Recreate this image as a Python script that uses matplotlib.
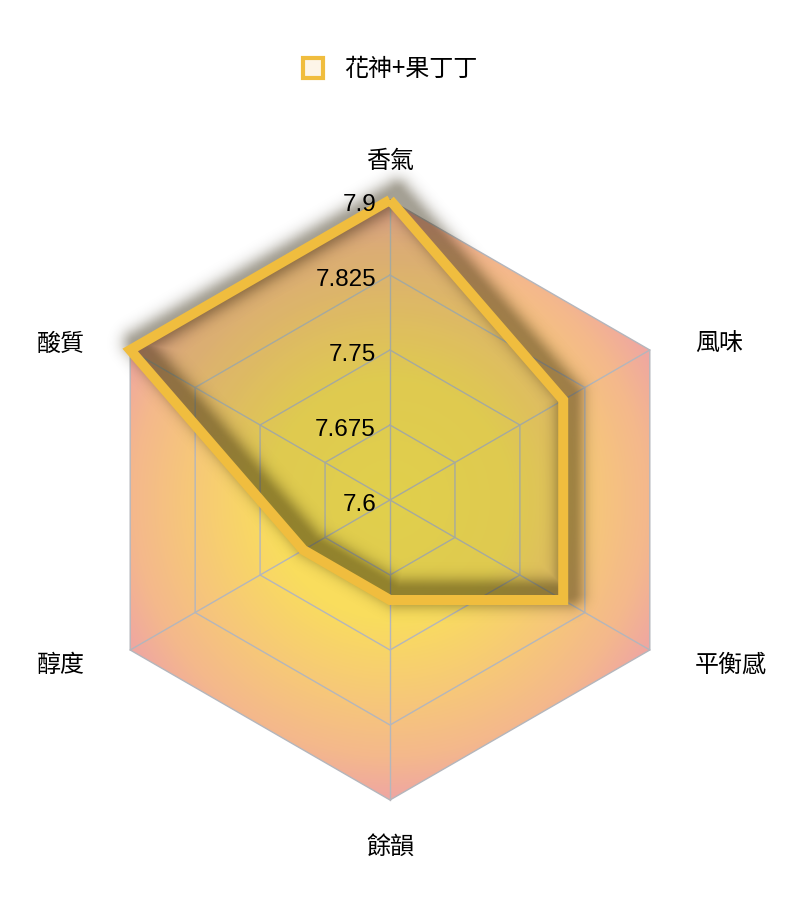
import numpy as np
import matplotlib
matplotlib.use('Agg')
import matplotlib.pyplot as plt
from matplotlib.colors import LinearSegmentedColormap
from matplotlib.patches import Polygon
from matplotlib.lines import Line2D

# ---------------- data ----------------
categories = ['香氣', '風味', '平衡感', '餘韻', '醇度', '酸質']
values = [7.9, 7.8, 7.8, 7.7, 7.7, 7.9]
series_name = '花神+果丁丁'
axis_min, axis_max = 7.6, 7.9
tick_values = [7.6, 7.675, 7.75, 7.825, 7.9]
tick_labels = ['7.6', '7.675', '7.75', '7.825', '7.9']

CJK = ['Noto Sans CJK TC', 'DejaVu Sans']
NUM = ['Liberation Sans', 'DejaVu Sans']
LINE_COLOR = '#f0bd3e'
GRID_COLOR = '#b4b6bc'

PX = 300.0  # pixels per unit radius
fig = plt.figure(figsize=(8.06, 9.0), dpi=100)
ax = fig.add_axes([0, 0, 1, 1])
ax.set_xlim(-390 / PX, 416 / PX)
ax.set_ylim(-400 / PX, 500 / PX)
ax.axis('off')

n = len(categories)
angles = np.pi / 2 - 2 * np.pi * np.arange(n) / n


def radius(v):
    return (np.asarray(v, dtype=float) - axis_min) / (axis_max - axis_min)


vx = np.cos(angles)
vy = np.sin(angles)

# ---------------- gradient background clipped to hexagon ----------------
N = 700
g = np.linspace(-1.02, 1.02, N)
GX, GY = np.meshgrid(g, g)
R = np.sqrt(GX ** 2 + GY ** 2)
cmap = LinearSegmentedColormap.from_list('bg', [
    (0.0, '#fbe35a'), (0.40, '#f9dd5e'), (0.70, '#f6c57c'),
    (0.86, '#f4b88c'), (1.0, '#efa6a2')])
img = ax.imshow(cmap(np.clip(R, 0, 1)), extent=[-1.02, 1.02, -1.02, 1.02],
                origin='lower', zorder=1, interpolation='bilinear')
hexagon = Polygon(np.column_stack([vx, vy]), closed=True, transform=ax.transData)
img.set_clip_path(hexagon)

# ---------------- split lines and axis lines ----------------
for t in tick_values[1:]:
    r = radius(t)
    ax.plot(np.append(vx, vx[0]) * r, np.append(vy, vy[0]) * r,
            color=GRID_COLOR, lw=1.0, zorder=2)
for i in range(n):
    ax.plot([0, vx[i]], [0, vy[i]], color=GRID_COLOR, lw=1.0, zorder=2)

# ---------------- series ----------------
rv = radius(values)
px_ = rv * vx
py_ = rv * vy
ax.add_patch(Polygon(np.column_stack([px_, py_]), closed=True,
                     facecolor=(80 / 255, 100 / 255, 0, 0.15), edgecolor='none', zorder=3))

# shadow of the line (offset right/up, blurred)
off = 7 / PX
M = 900
sx = np.linspace(-1.3, 1.35, M)
sy = np.linspace(-1.3, 1.35, M)
SX, SY = np.meshgrid(sx, sy)
dmin = np.full(SX.shape, np.inf)
ax_pts = np.append(px_, px_[0]) + off
ay_pts = np.append(py_, py_[0]) + off
for i in range(n):
    x1, y1, x2, y2 = ax_pts[i], ay_pts[i], ax_pts[i + 1], ay_pts[i + 1]
    dx, dy = x2 - x1, y2 - y1
    L2 = dx * dx + dy * dy
    t = np.clip(((SX - x1) * dx + (SY - y1) * dy) / L2, 0, 1)
    d = np.hypot(SX - (x1 + t * dx), SY - (y1 + t * dy))
    dmin = np.minimum(dmin, d)
dpx = dmin * PX
alpha = 0.42 * np.exp(-np.maximum(dpx - 3, 0) ** 2 / (2 * 9.0 ** 2))
shadow = np.zeros(SX.shape + (4,))
shadow[..., 0] = 40 / 255
shadow[..., 1] = 30 / 255
shadow[..., 2] = 0
shadow[..., 3] = alpha
ax.imshow(shadow, extent=[sx[0], sx[-1], sy[0], sy[-1]], origin='lower',
          zorder=4, interpolation='bilinear')

ax.plot(np.append(px_, px_[0]), np.append(py_, py_[0]), color=LINE_COLOR,
        lw=7.2, solid_joinstyle='miter', solid_capstyle='butt', zorder=5)

# ---------------- tick labels ----------------
for t, lab in zip(tick_values, tick_labels):
    ax.annotate(lab, xy=(0, radius(t)), xytext=(-14 * 0.72, -5 * 0.72),
                textcoords='offset points', ha='right', va='center',
                fontsize=17.5, family=NUM, color='#000000', zorder=6)

# ---------------- indicator names ----------------
for i in range(n):
    c, s = vx[i], vy[i]
    if abs(c) < 1e-6:
        ha = 'center'
        ox = 0
        oy = 39 if s > 0 else -47
    else:
        ha = 'left' if c > 0 else 'right'
        ox = 45 if c > 0 else -45
        oy = 6 if s > 0 else -15
    ax.annotate(categories[i], xy=(vx[i], vy[i]), xytext=(ox * 0.72, oy * 0.72),
                textcoords='offset points', ha=ha, va='center',
                fontsize=17.3, family=CJK, color='#000000', zorder=6)

# ---------------- legend ----------------
handle = Line2D([], [], marker='s', markersize=14, markerfacecolor='#fdf5e8',
                markeredgecolor=LINE_COLOR, markeredgewidth=3, linestyle='none')
leg = ax.legend([handle], [series_name], loc='center',
                bbox_to_anchor=(389 / 806, 1 - 69 / 900), bbox_transform=fig.transFigure,
                frameon=False, handlelength=1.0, handletextpad=0.8,
                prop={'family': CJK, 'size': 17.3})

fig.savefig('out.png', dpi=100)
